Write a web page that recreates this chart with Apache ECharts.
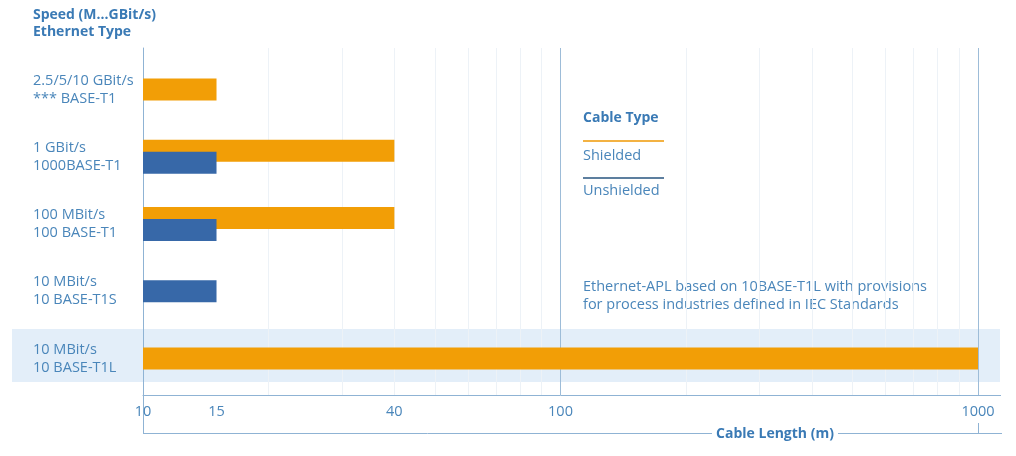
<!DOCTYPE html>
<html><head><meta charset="utf-8">
<script src="https://cdn.jsdelivr.net/npm/echarts@6/dist/echarts.min.js"></script>
<style>html,body{margin:0;padding:0;background:#fff}#c{width:1016px;height:456px}</style>
</head><body><div id="c"></div>
<script>
const categories = ['2.5/5/10 GBit/s\n*** BASE-T1', '1 GBit/s\n1000BASE-T1', '100 MBit/s\n100 BASE-T1', '10 MBit/s\n10 BASE-T1S', '10 MBit/s\n10 BASE-T1L'];
const shielded = [15, 40, 40, null, 1000];
const unshielded = [null, 15, 15, 15, null];
const tickLabels = [10, 15, 40, 100, 1000];
const minorLines = [20, 30, 40, 50, 60, 70, 80, 90, 200, 300, 400, 500, 600, 700, 800, 900];

const FONT = '"Open Sans"';
const FS = 14.5;
const TXT = '#4a86ba';
const HEAD = '#3a7ab5';
const LINE = '#8fb3d4';
const ORANGE = '#f29e06';
const BLUE = '#3768a8';

const paired = shielded.map((v, i) => v != null && unshielded[i] != null);
const pairS = shielded.map((v, i) => paired[i] ? v : null);
const pairU = unshielded.map((v, i) => paired[i] ? v : null);
const singleS = shielded.map((v, i) => paired[i] ? null : v);
const singleU = unshielded.map((v, i) => paired[i] ? null : v);

const chart = echarts.init(document.getElementById('c'));
const L = 143, R = 38;
chart.setOption({
  animation: false,
  textStyle: { fontFamily: FONT },
  title: {
    text: 'Speed (M...GBit/s)\nEthernet Type',
    left: 28, top: 2,
    textStyle: { fontFamily: FONT, fontSize: 14, fontWeight: 'bold', color: HEAD, lineHeight: 17 }
  },
  grid: [
    { left: L, right: R, top: 56, bottom: 64 },
    { left: L, right: R, top: 48, bottom: 61 }
  ],
  xAxis: [
    { gridIndex: 0, type: 'log', logBase: 10, min: 10, max: 1000, startValue: 10, show: false },
    { gridIndex: 1, type: 'log', logBase: 10, min: 10, max: 1000,
      axisLine: { show: true, lineStyle: { color: LINE, width: 1 } },
      axisTick: { show: false },
      splitLine: { show: true, lineStyle: { color: '#9dbcd8', width: 1 } },
      axisLabel: { customValues: tickLabels, formatter: v => String(Math.round(v)), color: TXT, fontSize: FS, fontFamily: FONT, margin: 9 }
    }
  ],
  yAxis: [
    { gridIndex: 0, type: 'category', inverse: true, data: categories,
      axisLine: { show: false }, axisTick: { show: false }, splitLine: { show: false },
      axisLabel: { align: 'left', margin: 110, color: TXT, fontSize: FS, fontFamily: FONT, lineHeight: 18 } },
    { gridIndex: 0, type: 'category', inverse: true, data: categories, show: false },
    { gridIndex: 1, type: 'value', min: 0, max: 1,
      axisLine: { show: true, onZero: false, lineStyle: { color: LINE, width: 1 } },
      axisTick: { show: false }, axisLabel: { show: false }, splitLine: { show: false } }
  ],
  series: [
    { name: 'Shielded', type: 'bar', xAxisIndex: 0, yAxisIndex: 0, data: pairS, barWidth: 22, barGap: '-45.45%',
      itemStyle: { color: ORANGE }, z: 3 },
    { name: 'Unshielded', type: 'bar', xAxisIndex: 0, yAxisIndex: 0, data: pairU, barWidth: 22, barGap: '-45.45%',
      itemStyle: { color: BLUE }, z: 4 },
    { name: 'Shielded ', type: 'bar', xAxisIndex: 0, yAxisIndex: 1, data: singleS, barWidth: 22, barGap: '-100%',
      itemStyle: { color: ORANGE }, z: 3 },
    { name: 'Unshielded ', type: 'bar', xAxisIndex: 0, yAxisIndex: 1, data: singleU, barWidth: 22, barGap: '-100%',
      itemStyle: { color: BLUE }, z: 3 },
    { type: 'line', xAxisIndex: 1, yAxisIndex: 2, data: [], z: 0, silent: true,
      markLine: { z: 0, silent: true, symbol: ['none', 'none'], label: { show: false },
        lineStyle: { color: '#edf2f7', width: 1, type: 'solid' },
        data: minorLines.map(v => ({ xAxis: v })) } }
  ],
  graphic: [
    { type: 'rect', z: -10, shape: { x: 12, y: 329, width: 988, height: 53 }, style: { fill: '#e3eef9' } },
    { type: 'line', shape: { x1: L + 0.5, y1: 395, x2: L + 0.5, y2: 433 }, style: { stroke: LINE, lineWidth: 1 } },
    { type: 'line', shape: { x1: 978, y1: 395.5, x2: 1001, y2: 395.5 }, style: { stroke: LINE, lineWidth: 1 } },
    { type: 'line', shape: { x1: L, y1: 433.5, x2: 712, y2: 433.5 }, style: { stroke: LINE, lineWidth: 1 } },
    { type: 'line', shape: { x1: 838, y1: 433.5, x2: 1002, y2: 433.5 }, style: { stroke: LINE, lineWidth: 1 } },
    { type: 'line', shape: { x1: 978.5, y1: 423, x2: 978.5, y2: 433 }, style: { stroke: LINE, lineWidth: 1 } },
    { type: 'text', x: 775, y: 434, style: { text: 'Cable Length (m)', fill: HEAD, font: 'bold 14px ' + FONT, textAlign: 'center', textVerticalAlign: 'middle' } },
    { type: 'text', x: 583, y: 118, style: { text: 'Cable Type', fill: HEAD, font: 'bold 14px ' + FONT, textVerticalAlign: 'middle' } },
    { type: 'line', shape: { x1: 583, y1: 141, x2: 664, y2: 141 }, style: { stroke: '#f3b243', lineWidth: 2 } },
    { type: 'text', x: 583, y: 156, style: { text: 'Shielded', fill: TXT, font: FS + 'px ' + FONT, textVerticalAlign: 'middle' } },
    { type: 'line', shape: { x1: 583, y1: 178, x2: 664, y2: 178 }, style: { stroke: '#5d7f9f', lineWidth: 2 } },
    { type: 'text', x: 583, y: 191, style: { text: 'Unshielded', fill: TXT, font: FS + 'px ' + FONT, textVerticalAlign: 'middle' } },
    { type: 'text', x: 583, y: 287, style: { text: 'Ethernet-APL based on 10BASE-T1L with provisions', fill: TXT, font: FS + 'px ' + FONT, textVerticalAlign: 'middle' } },
    { type: 'text', x: 583, y: 305, style: { text: 'for process industries defined in IEC Standards', fill: TXT, font: FS + 'px ' + FONT, textVerticalAlign: 'middle' } }
  ]
});
</script></body></html>
